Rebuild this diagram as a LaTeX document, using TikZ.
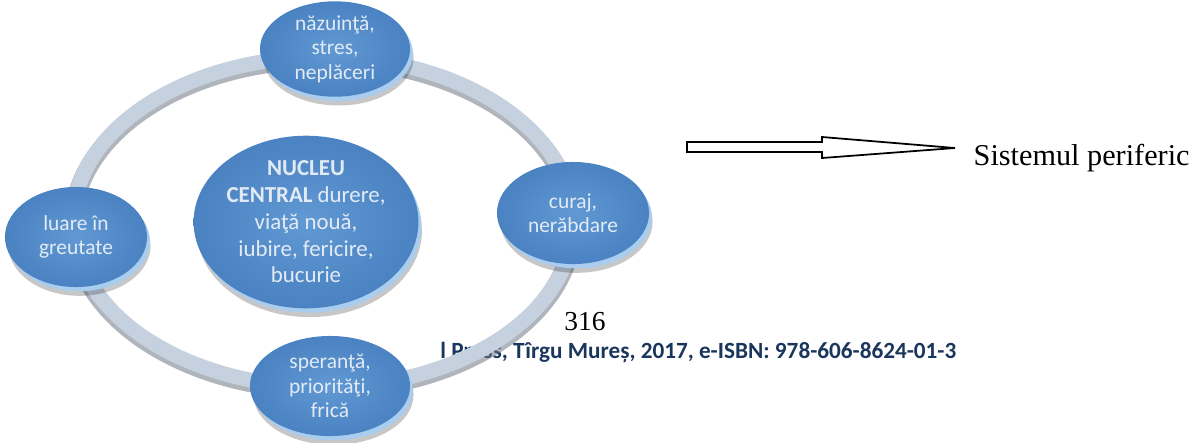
\documentclass[tikz,border=0pt]{standalone}
\usepackage{fontspec}
\setmainfont{Liberation Serif}
\newfontfamily\calib{Carlito}
\usetikzlibrary{calc,shapes.geometric}

\definecolor{discface}{HTML}{4A82C2}
\definecolor{disclight}{HTML}{6199D4}
\definecolor{discrim}{HTML}{A9CDEF}
\definecolor{disctext}{HTML}{E2EBF5}
\definecolor{ringbody}{HTML}{C6D1DF}
\definecolor{ringedge}{HTML}{6F7885}
\definecolor{footblue}{HTML}{1B365C}

\tikzset{
  disc/.style={ellipse, inner sep=0pt, align=center, text=disctext,
    font=\calib\fontsize{6.1}{7}\selectfont,
    preaction={fill=black, opacity=.22, transform canvas={xshift=1pt,yshift=-2.5pt}},
    preaction={fill=discrim, transform canvas={xshift=.8pt,yshift=-1.2pt}},
    shade, inner color=disclight, outer color=discface},
  ring/.style={line width=4.2pt, draw=ringbody},
  ringshade/.style={line width=5.2pt, draw=ringedge, opacity=.55},
  openarrow/.style={draw=black, fill=white, line width=.5pt, line join=miter}
}

\begin{document}
\begin{tikzpicture}[x=0.01cm, y=-0.01cm]
  \useasboundingbox (0,0) rectangle (1201,442);

  % page footer, partly hidden under the ring
  \node[anchor=base, font=\fontsize{7.8}{9}\selectfont] (page) at (585,330) {316};
  \node[anchor=base west, text=footblue, font=\calib\bfseries\fontsize{6.6}{8}\selectfont] (foot) at (428,358)
    {l Press, Tîrgu Mureș, 2017, e-ISBN: 978-606-8624-01-3};

  % ring through the outer discs
  \coordinate (rc) at (323,222);
  \draw[ringshade] ($(rc)+(0,3)$) ellipse [x radius=2.5cm, y radius=1.65cm];
  \draw[ring] (rc) ellipse [x radius=2.5cm, y radius=1.65cm];

  % discs
  \node[disc, minimum width=1.9cm, minimum height=1.55cm, font=\calib\fontsize{6.5}{7.6}\selectfont] (core) at (306,222)
    {\textbf{NUCLEU}\\\textbf{CENTRAL} durere,\\viaţă nouă,\\iubire, fericire,\\bucurie};
  \node[disc, minimum width=1.5cm, minimum height=.9cm] (top) at (335,49)
    {năzuinţă,\\stres,\\neplăceri};
  \node[disc, minimum width=1.42cm, minimum height=1cm] (left) at (76,237)
    {luare în\\greutate};
  \node[disc, minimum width=1.52cm, minimum height=1.02cm] (right) at (573,213)
    {curaj,\\nerăbdare};
  \node[disc, minimum width=1.6cm, minimum height=1cm] (bottom) at (330,386)
    {speranţă,\\priorităţi,\\frică};

  % block arrow towards the label
  \node[anchor=base west, inner sep=0pt, font=\fontsize{8.6}{10}\selectfont] (periph) at (973,165) {Sistemul periferic};
  \coordinate (tail) at (687,147);
  \coordinate (tip) at (955,148);
  \draw[openarrow] ($(tail)+(0,-5)$) -- ($(tail)+(135,-5)$) -- ($(tail)+(135,-10)$) -- (tip)
    -- ($(tail)+(135,11)$) -- ($(tail)+(135,5)$) -- ($(tail)+(0,5)$) -- cycle;
\end{tikzpicture}
\end{document}
